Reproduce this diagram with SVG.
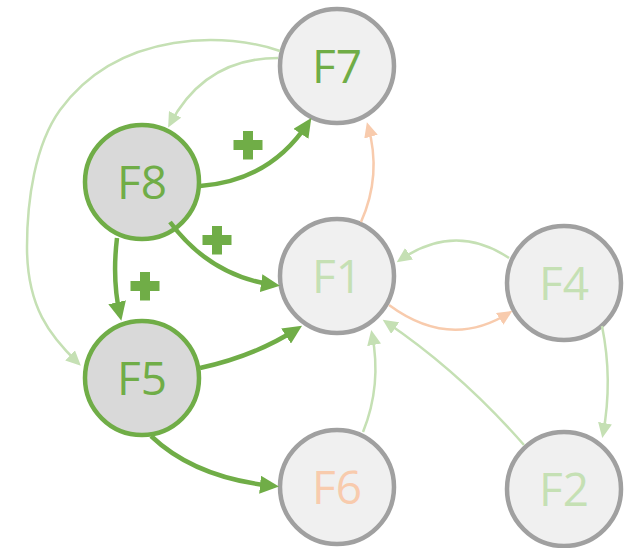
<svg xmlns="http://www.w3.org/2000/svg" width="631" height="548" viewBox="0 0 631 548">
  <style>
    .node { stroke-width: 4.5; }
    .plain { fill: #f0f0f0; stroke: #a0a0a0; }
    .key { fill: #d9d9d9; stroke: #70ad47; }
    .lbl { font-family: "Open Sans", "Liberation Sans", sans-serif; font-size: 46px; text-anchor: middle; }
    .strong { fill: none; stroke: #70ad47; stroke-width: 4.5; marker-end: url(#aStrong); }
    .weak { fill: none; stroke: #c5e0b4; stroke-width: 2.5; marker-end: url(#aWeak); }
    .warm { fill: none; stroke: #f8cbad; stroke-width: 2.5; marker-end: url(#aWarm); }
    .plus { fill: #70ad47; }
  </style>
  <defs>
    <marker id="aStrong" markerUnits="userSpaceOnUse" markerWidth="20" markerHeight="18" refX="13" refY="9" orient="auto">
      <path d="M0,0 L19,9 L0,18 z" fill="#70ad47"/>
    </marker>
    <marker id="aWeak" markerUnits="userSpaceOnUse" markerWidth="16" markerHeight="14" refX="11" refY="7" orient="auto">
      <path d="M0,0 L15,7 L0,14 z" fill="#c5e0b4"/>
    </marker>
    <marker id="aWarm" markerUnits="userSpaceOnUse" markerWidth="16" markerHeight="14" refX="11" refY="7" orient="auto">
      <path d="M0,0 L15,7 L0,14 z" fill="#f8cbad"/>
    </marker>
  </defs>

  <g id="F7">
    <circle class="node plain" cx="337" cy="66" r="57"/>
    <text class="lbl" x="337" y="83" fill="#70ad47">F7</text>
  </g>
  <g id="F8">
    <circle class="node key" cx="142" cy="182" r="57"/>
    <text class="lbl" x="142" y="199" fill="#70ad47">F8</text>
  </g>
  <g id="F1">
    <circle class="node plain" cx="337" cy="276" r="57"/>
    <text class="lbl" x="337" y="293" fill="#c5e0b4">F1</text>
  </g>
  <g id="F4">
    <circle class="node plain" cx="564" cy="283" r="57"/>
    <text class="lbl" x="564" y="300" fill="#c5e0b4">F4</text>
  </g>
  <g id="F5">
    <circle class="node key" cx="142" cy="378" r="57"/>
    <text class="lbl" x="142" y="395" fill="#70ad47">F5</text>
  </g>
  <g id="F6">
    <circle class="node plain" cx="337" cy="487" r="57"/>
    <text class="lbl" x="337" y="504" fill="#f8cbad">F6</text>
  </g>
  <g id="F2">
    <circle class="node plain" cx="564" cy="489" r="57"/>
    <text class="lbl" x="564" y="506" fill="#c5e0b4">F2</text>
  </g>

  <g id="connectors">
    <!-- strong positive links -->
    <path class="strong" d="M200,186 Q270,181 308,123"/>
    <path class="strong" d="M170,222 Q210,276 274,285"/>
    <path class="strong" d="M117,238 Q112,280 120,315"/>
    <path class="strong" d="M200,368 Q255,356 297,329"/>
    <path class="strong" d="M151,436 Q195,478 273,486"/>
    <!-- weak links -->
    <path class="weak" d="M278,58 Q205,58 170,124"/>
    <path class="weak" d="M280,51 C230,33 120,28 60,110 C35,145 27,200 27,247 C27,307 50,336 78,363"/>
    <path class="weak" d="M509,258 Q455,222 400,260"/>
    <path class="weak" d="M602,326 Q613,380 603,434"/>
    <path class="weak" d="M524,445 Q460,372 386,322"/>
    <path class="weak" d="M363,432 Q382,385 372,334"/>
    <!-- warm links -->
    <path class="warm" d="M361,222 Q382,175 368,126"/>
    <path class="warm" d="M389,305 Q450,350 509,313"/>
  </g>

  <g id="signs">
    <path class="plus" d="M243,131 h10 v9 h9.5 v10 h-9.5 v9.5 h-10 v-9.5 h-9.5 v-10 h9.5 z"/>
    <path class="plus" d="M212,226 h10 v9 h9.5 v10 h-9.5 v9.5 h-10 v-9.5 h-9.5 v-10 h9.5 z"/>
    <path class="plus" d="M140,272 h10 v9 h9.5 v10 h-9.5 v9.5 h-10 v-9.5 h-9.5 v-10 h9.5 z"/>
  </g>
</svg>
